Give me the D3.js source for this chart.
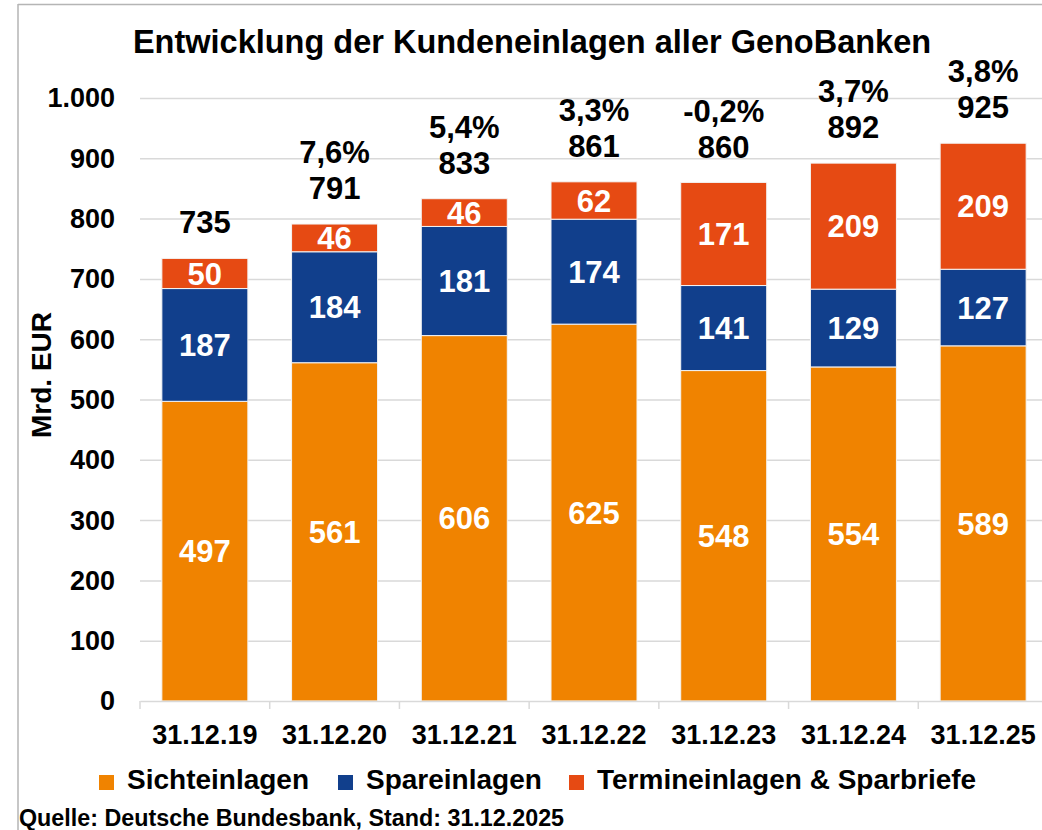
<!DOCTYPE html>
<html>
<head>
<meta charset="utf-8">
<script src="https://cdn.jsdelivr.net/npm/d3@7"></script>
<style>
	body { margin: 0; background: #fff; }
	text { font-family: "Liberation Sans", Arial, sans-serif; font-weight: bold; }
</style>
</head>
<body>
<svg id="chart" width="1042" height="830"></svg>
<script>
const categories = ["31.12.19", "31.12.20", "31.12.21", "31.12.22", "31.12.23", "31.12.24", "31.12.25"];
const sichteinlagen = [497, 561, 606, 625, 548, 554, 589];
const spareinlagen = [187, 184, 181, 174, 141, 129, 127];
const termineinlagen = [50, 46, 46, 62, 171, 209, 209];
const totals = [735, 791, 833, 861, 860, 892, 925];
const growth = ["", "7,6%", "5,4%", "3,3%", "-0,2%", "3,7%", "3,8%"];
const yTicks = [0, 100, 200, 300, 400, 500, 600, 700, 800, 900, 1000];

const seriesNames = ["Sichteinlagen", "Spareinlagen", "Termineinlagen & Sparbriefe"];
const colors = ["#f08300", "#113f8c", "#e64a13"];

const svg = d3.select("#chart");
const marginLeft = 140, plotRight = 1048, plotTop = 98, plotBottom = 701;

// frame (only left and top edge visible)
svg.append("line").attr("x1", 18).attr("x2", 18).attr("y1", 4).attr("y2", 830)
	.attr("stroke", "#b5b5b5").attr("stroke-width", 1.5);
svg.append("line").attr("x1", 18).attr("x2", 1042).attr("y1", 4.5).attr("y2", 4.5)
	.attr("stroke", "#b5b5b5").attr("stroke-width", 1.5);

const x = d3.scaleBand()
	.domain(categories)
	.range([marginLeft, plotRight])
	.paddingInner(0.337)
	.paddingOuter(0.1685);

const y = d3.scaleLinear()
	.domain([0, 1000])
	.range([plotBottom, plotTop]);

// gridlines + y labels
const yAxis = svg.append("g")
	.attr("transform", `translate(${marginLeft},0)`)
	.call(d3.axisLeft(y).tickValues(yTicks).tickSize(0).tickPadding(25)
		.tickFormat(d => d3.format(",")(d).replace(",", ".")));
yAxis.select(".domain").remove();
yAxis.selectAll("text").attr("font-size", 27).attr("fill", "#000").attr("dy", "0.33em");
yAxis.selectAll(".tick").filter(d => d > 0).append("line")
	.attr("x1", 0).attr("x2", plotRight - marginLeft)
	.attr("stroke", "#d9d9d9").attr("stroke-width", 1.5);

// stacked data
const rows = categories.map((c, i) => ({
	cat: c,
	Sichteinlagen: sichteinlagen[i],
	Spareinlagen: spareinlagen[i],
	"Termineinlagen & Sparbriefe": termineinlagen[i]
}));
const stacked = d3.stack().keys(seriesNames)(rows);

const groups = svg.selectAll("g.series")
	.data(stacked)
	.join("g")
	.attr("class", "series")
	.attr("fill", (d, i) => colors[i]);

groups.selectAll("rect")
	.data(d => d)
	.join("rect")
	.attr("x", d => x(d.data.cat))
	.attr("y", d => y(d[1]))
	.attr("width", x.bandwidth())
	.attr("height", d => y(d[0]) - y(d[1]))
	.attr("stroke", "#f4f4f4")
	.attr("stroke-width", 1);

// segment labels
groups.selectAll("text")
	.data(d => d)
	.join("text")
	.attr("x", d => x(d.data.cat) + x.bandwidth() / 2)
	.attr("y", d => y((d[0] + d[1]) / 2))
	.attr("dy", "0.36em")
	.attr("text-anchor", "middle")
	.attr("font-size", 31)
	.attr("fill", "#fff")
	.text(d => d[1] - d[0]);

// x axis
const xAxis = svg.append("g")
	.attr("transform", `translate(0,${plotBottom})`)
	.call(d3.axisBottom(x).tickSize(0).tickPadding(0));
xAxis.select(".domain").attr("stroke", "#d9d9d9").attr("stroke-width", 1.5);
xAxis.selectAll("text").attr("font-size", 27).attr("fill", "#000").attr("y", 43).attr("dy", 0);
const bounds = categories.map(c => x(c) - x.step() * x.paddingInner() / 2).concat([plotRight]);
xAxis.selectAll("line.sep")
	.data(bounds)
	.join("line")
	.attr("class", "sep")
	.attr("x1", d => d).attr("x2", d => d)
	.attr("y1", 0).attr("y2", 8)
	.attr("stroke", "#d9d9d9").attr("stroke-width", 1.5);

// totals and growth
svg.append("g").selectAll("text")
	.data(categories)
	.join("text")
	.attr("x", c => x(c) + x.bandwidth() / 2)
	.attr("y", (c, i) => y(totals[i]) - 36)
	.attr("dy", "0.36em")
	.attr("text-anchor", "middle")
	.attr("font-size", 31)
	.attr("fill", "#000")
	.text((c, i) => totals[i]);

svg.append("g").selectAll("text")
	.data(categories)
	.join("text")
	.attr("x", c => x(c) + x.bandwidth() / 2)
	.attr("y", (c, i) => y(totals[i]) - 72)
	.attr("dy", "0.36em")
	.attr("text-anchor", "middle")
	.attr("font-size", 31)
	.attr("fill", "#000")
	.text((c, i) => growth[i]);

// title
svg.append("text")
	.attr("x", 532).attr("y", 53)
	.attr("text-anchor", "middle")
	.attr("font-size", 32.5)
	.attr("fill", "#000")
	.text("Entwicklung der Kundeneinlagen aller GenoBanken");

// y axis title
svg.append("text")
	.attr("transform", "translate(51,375) rotate(-90)")
	.attr("text-anchor", "middle")
	.attr("font-size", 28)
	.attr("fill", "#000")
	.text("Mrd. EUR");

// legend
const legendX = [99, 338, 569];
const legend = svg.append("g").selectAll("g")
	.data(seriesNames)
	.join("g")
	.attr("transform", (d, i) => `translate(${legendX[i]},775)`);
legend.append("rect").attr("width", 15).attr("height", 15).attr("fill", (d, i) => colors[i]);
legend.append("text").attr("x", 28).attr("y", 14).attr("font-size", 28).attr("fill", "#000").text(d => d);

// source
svg.append("text")
	.attr("x", 19).attr("y", 826)
	.attr("font-size", 23.3)
	.attr("fill", "#000")
	.text("Quelle: Deutsche Bundesbank, Stand: 31.12.2025");
</script>
</body>
</html>
